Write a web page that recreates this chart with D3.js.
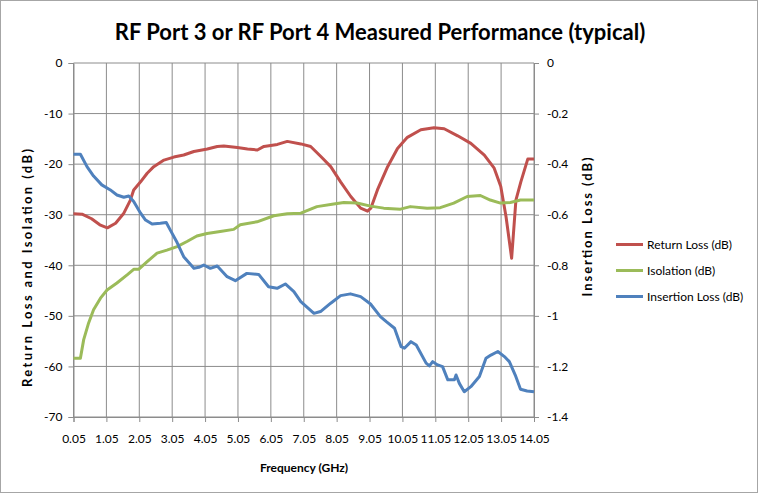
<!DOCTYPE html>
<html>
<head>
<meta charset="utf-8">
<script src="https://cdn.jsdelivr.net/npm/d3@7"></script>
<style>
  body { margin: 0; background: #fff; }
  text { font-family: Lato, "Open Sans", sans-serif; fill: #000; }
</style>
</head>
<body>
<svg class="chart" width="759" height="494"></svg>
<script>
// values
const xTicks = [0.05, 1.05, 2.05, 3.05, 4.05, 5.05, 6.05, 7.05, 8.05, 9.05, 10.05, 11.05, 12.05, 13.05, 14.05];
const leftTicks = [0, -10, -20, -30, -40, -50, -60, -70];
const rightTicks = [0, -0.2, -0.4, -0.6, -0.8, -1, -1.2, -1.4];

const rlFreq = [0.05, 0.31, 0.6, 0.85, 1.08, 1.33, 1.58, 1.78, 1.88, 2.09, 2.29, 2.49, 2.8, 3.1, 3.4, 3.71, 4.12, 4.42, 4.62, 5.03, 5.34, 5.64, 5.84, 6.25, 6.55, 6.96, 7.26, 7.57, 7.87, 8.17, 8.48, 8.78, 8.99, 9.09, 9.29, 9.6, 9.9, 10.2, 10.61, 11.01, 11.32, 11.73, 12.13, 12.54, 12.84, 13.04, 13.2, 13.37, 13.5, 13.65, 13.86, 14.05];
const rlVals = [-29.8, -29.9, -30.8, -32.0, -32.6, -31.7, -29.7, -27.1, -25.1, -23.5, -21.8, -20.5, -19.2, -18.6, -18.2, -17.5, -17.0, -16.5, -16.4, -16.7, -17.0, -17.2, -16.5, -16.1, -15.5, -16.0, -16.5, -18.5, -20.5, -23.5, -26.4, -28.7, -29.3, -28.7, -25.1, -20.5, -16.9, -14.7, -13.2, -12.8, -13.0, -14.4, -15.9, -18.2, -20.8, -24.4, -30.4, -38.6, -27.1, -23.5, -19.0, -19.0];

const isoFreq = [0.05, 0.26, 0.36, 0.51, 0.66, 0.87, 1.07, 1.37, 1.68, 1.88, 2.03, 2.29, 2.59, 2.89, 3.2, 3.5, 3.8, 4.11, 4.51, 4.92, 5.12, 5.63, 6.14, 6.55, 6.96, 7.45, 7.96, 8.27, 8.67, 9.08, 9.48, 9.99, 10.29, 10.8, 11.2, 11.61, 12.02, 12.42, 12.72, 13.03, 13.33, 13.64, 14.05];
const isoVals = [-58.4, -58.4, -54.7, -51.4, -48.8, -46.5, -44.9, -43.5, -41.9, -40.8, -40.8, -39.3, -37.6, -37.0, -36.3, -35.3, -34.2, -33.7, -33.3, -32.9, -32.0, -31.4, -30.2, -29.8, -29.7, -28.4, -27.9, -27.6, -27.7, -28.3, -28.7, -28.9, -28.4, -28.7, -28.6, -27.7, -26.4, -26.2, -27.1, -27.7, -27.6, -27.1, -27.1];

const ilFreq = [0.05, 0.26, 0.46, 0.66, 0.91, 1.17, 1.37, 1.58, 1.73, 1.88, 2.09, 2.24, 2.44, 2.69, 2.87, 2.99, 3.2, 3.4, 3.71, 3.86, 4.01, 4.21, 4.42, 4.72, 4.97, 5.32, 5.68, 5.98, 6.24, 6.49, 6.75, 6.96, 7.36, 7.56, 7.87, 8.17, 8.47, 8.78, 9.08, 9.38, 9.56, 9.81, 10.01, 10.11, 10.31, 10.47, 10.77, 10.87, 10.97, 11.12, 11.27, 11.43, 11.63, 11.68, 11.78, 11.93, 12.13, 12.39, 12.59, 12.74, 12.95, 13.15, 13.3, 13.48, 13.64, 13.84, 14.05];
const ilVals = [-0.361, -0.361, -0.410, -0.447, -0.482, -0.502, -0.522, -0.531, -0.526, -0.548, -0.594, -0.621, -0.637, -0.634, -0.631, -0.660, -0.710, -0.766, -0.812, -0.808, -0.799, -0.812, -0.803, -0.845, -0.861, -0.832, -0.836, -0.885, -0.891, -0.874, -0.904, -0.944, -0.990, -0.983, -0.950, -0.920, -0.913, -0.924, -0.953, -1.003, -1.023, -1.049, -1.122, -1.128, -1.102, -1.115, -1.187, -1.198, -1.181, -1.194, -1.201, -1.253, -1.253, -1.234, -1.267, -1.300, -1.280, -1.240, -1.168, -1.155, -1.141, -1.161, -1.181, -1.234, -1.290, -1.297, -1.300];

const seriesNames = ["Return Loss (dB)", "Isolation (dB)", "Insertion Loss (dB)"];
const seriesColors = ["#C0504D", "#9BBB59", "#4F81BD"];

const svg = d3.select(".chart");

let plotLeft = 73.5, plotRight = 534, plotTop = 63, plotBottom = 417;

// chart border
svg.append("rect")
  .attr("x", 0.5).attr("y", 0.5)
  .attr("width", 757).attr("height", 492)
  .attr("fill", "none").attr("stroke", "#a6a6a6");

const xScale = d3.scaleLinear().domain([0.05, 14.05]).range([plotLeft, plotRight]);
const yLeft = d3.scaleLinear().domain([-70, 0]).range([plotBottom, plotTop]);
const yRight = d3.scaleLinear().domain([-1.4, 0]).range([plotBottom, plotTop]);

// grid
svg.append("g")
  .selectAll("line")
  .data(leftTicks)
  .enter()
  .append("line")
  .attr("x1", plotLeft).attr("x2", plotRight)
  .attr("y1", (d) => yLeft(d)).attr("y2", (d) => yLeft(d))
  .attr("stroke", "#8c8c8c").attr("stroke-width", 1);

svg.append("g")
  .selectAll("line")
  .data(xTicks)
  .enter()
  .append("line")
  .attr("x1", (d) => xScale(d)).attr("x2", (d) => xScale(d))
  .attr("y1", plotTop).attr("y2", plotBottom)
  .attr("stroke", "#8c8c8c").attr("stroke-width", 1);

// axes
const styleAxis = (g) => {
  g.select(".domain").attr("stroke", "#8c8c8c");
  g.selectAll(".tick line").attr("stroke", "#8c8c8c");
  g.selectAll(".tick text").style("font-size", "12px").style("font-family", "Lato, sans-serif").attr("fill", "#000");
};

svg.append("g")
  .attr("transform", `translate(0,${plotBottom})`)
  .call(d3.axisBottom(xScale).tickValues(xTicks).tickFormat((d) => d.toFixed(2)).tickSizeOuter(0).tickSize(5).tickPadding(12))
  .call(styleAxis);

svg.append("g")
  .attr("transform", `translate(${plotLeft},0)`)
  .call(d3.axisLeft(yLeft).tickValues(leftTicks).tickFormat((d) => d).tickSizeOuter(0).tickSize(5).tickPadding(6))
  .call(styleAxis);

svg.append("g")
  .attr("transform", `translate(${plotRight},0)`)
  .call(d3.axisRight(yRight).tickValues(rightTicks).tickFormat((d) => d).tickSizeOuter(0).tickSize(5).tickPadding(8))
  .call(styleAxis);

// lines
const lineL = d3.line().x((d) => xScale(d[0])).y((d) => yLeft(d[1]));
const lineR = d3.line().x((d) => xScale(d[0])).y((d) => yRight(d[1]));

const rl = d3.zip(rlFreq, rlVals);
const iso = d3.zip(isoFreq, isoVals);
const il = d3.zip(ilFreq, ilVals);

[[rl, lineL, 0], [iso, lineL, 1], [il, lineR, 2]].forEach(([pts, gen, i]) => {
  svg.append("path")
    .datum(pts)
    .attr("fill", "none")
    .attr("stroke", seriesColors[i])
    .attr("stroke-width", 3)
    .attr("stroke-linejoin", "round")
    .attr("d", gen);
});

// title and axis labels
svg.append("text")
  .attr("x", 380).attr("y", 40)
  .attr("text-anchor", "middle")
  .style("font-size", "22px").style("font-weight", "bold")
  .text("RF Port 3 or RF Port 4 Measured Performance (typical)");

svg.append("text")
  .attr("x", 304).attr("y", 472)
  .attr("text-anchor", "middle")
  .style("font-size", "12px").style("font-weight", "bold")
  .text("Frequency (GHz)");

// the rotated titles are spread out in the reference
svg.append("text")
  .attr("transform", "translate(32,268) rotate(-90)")
  .attr("text-anchor", "middle")
  .attr("textLength", 238)
  .attr("lengthAdjust", "spacing")
  .style("font-size", "13px").style("font-weight", "bold")
  .text("Return Loss and Isolation (dB)");

svg.append("text")
  .attr("transform", "translate(592,227) rotate(-90)")
  .attr("text-anchor", "middle")
  .attr("textLength", 139)
  .attr("lengthAdjust", "spacing")
  .style("font-size", "13px").style("font-weight", "bold")
  .text("Insertion Loss (dB)");

// legend
const legend = svg.append("g")
  .selectAll("g")
  .data(seriesNames)
  .enter()
  .append("g")
  .attr("transform", (d, i) => `translate(616,${244.5 + i * 26})`);

legend.append("line")
  .attr("x1", 0).attr("x2", 27)
  .attr("stroke", (d, i) => seriesColors[i])
  .attr("stroke-width", 3);

legend.append("text")
  .attr("x", 31).attr("y", 4)
  .style("font-size", "12px")
  .text((d) => d);
</script>
</body>
</html>
